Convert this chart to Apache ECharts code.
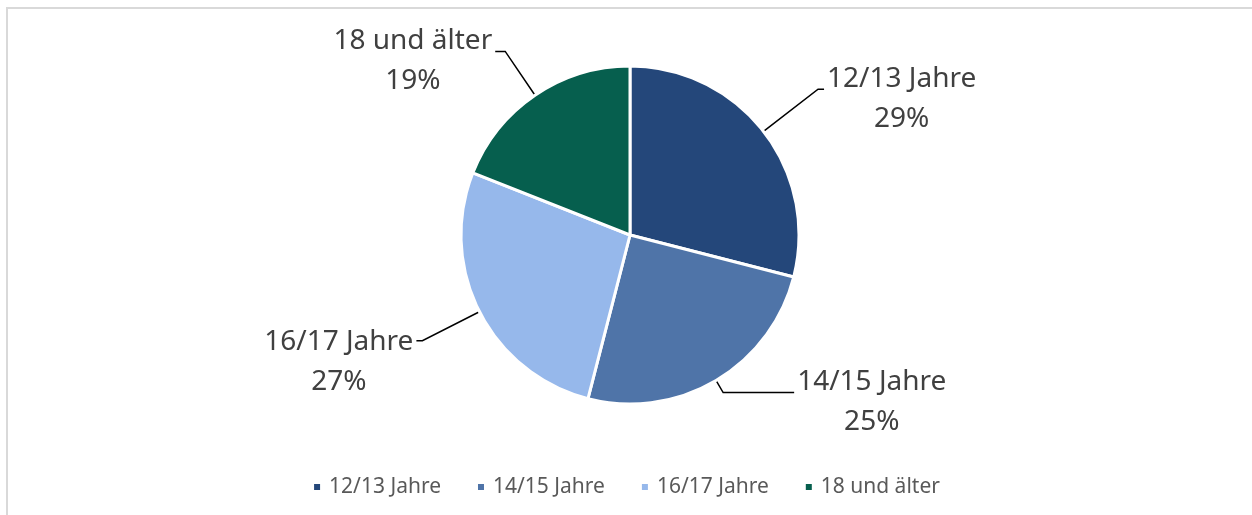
<!DOCTYPE html>
<html>
<head>
<meta charset="utf-8">
<script src="https://cdn.jsdelivr.net/npm/echarts@6/dist/echarts.min.js"></script>
<style>
  html, body { margin: 0; padding: 0; background: #ffffff; }
  #chart { width: 1252px; height: 515px; }
</style>
</head>
<body>
<div id="chart"></div>
<script>
const categories = ['12/13 Jahre', '14/15 Jahre', '16/17 Jahre', '18 und älter'];
const shares = [29, 25, 27, 19];

const colors = ['#24477a', '#4f74a8', '#96b8eb', '#065f4e'];
const lineLen1 = [69, 14, 64, 53];
const lineLen2 = [6, 71, 6, 10];
const labelPadTop = [20, 20, 42, 20];

const chart = echarts.init(document.getElementById('chart'), null, { renderer: 'canvas' });

const data = categories.map((name, i) => ({
  name: name,
  value: shares[i],
  itemStyle: { color: colors[i] },
  label: { padding: [labelPadTop[i], 0, 0, 0] },
  labelLine: { length: lineLen1[i], length2: lineLen2[i] }
}));

chart.setOption({
  animation: false,
  backgroundColor: '#ffffff',
  graphic: [{
    type: 'rect',
    shape: { x: 7, y: 8, width: 1400, height: 700 },
    style: { fill: 'none', stroke: '#d9d9d9', lineWidth: 2 },
    silent: true
  }],
  legend: {
    data: categories,
    left: 'center',
    top: 470,
    icon: 'rect',
    itemWidth: 8,
    itemHeight: 8,
    itemGap: 35,
    textStyle: { fontFamily: 'Noto Sans', fontSize: 21, color: '#595959', lineHeight: 24, padding: [0, 0, 0, 3] }
  },
  series: [{
    type: 'pie',
    center: [630, 235],
    radius: 169,
    startAngle: 90,
    clockwise: true,
    avoidLabelOverlap: false,
    itemStyle: { borderColor: '#ffffff', borderWidth: 3 },
    label: {
      show: true,
      position: 'outside',
      distanceToLabelLine: 3,
      formatter: '{a|{b}}\n{a|{d}%}',
      rich: {
        a: { fontFamily: 'Noto Sans', fontSize: 28, color: '#404040', lineHeight: 40, align: 'center' }
      }
    },
    labelLine: {
      show: true,
      lineStyle: { color: '#000000', width: 1.5 }
    },
    emphasis: { disabled: true },
    data: data
  }]
});
</script>
</body>
</html>
